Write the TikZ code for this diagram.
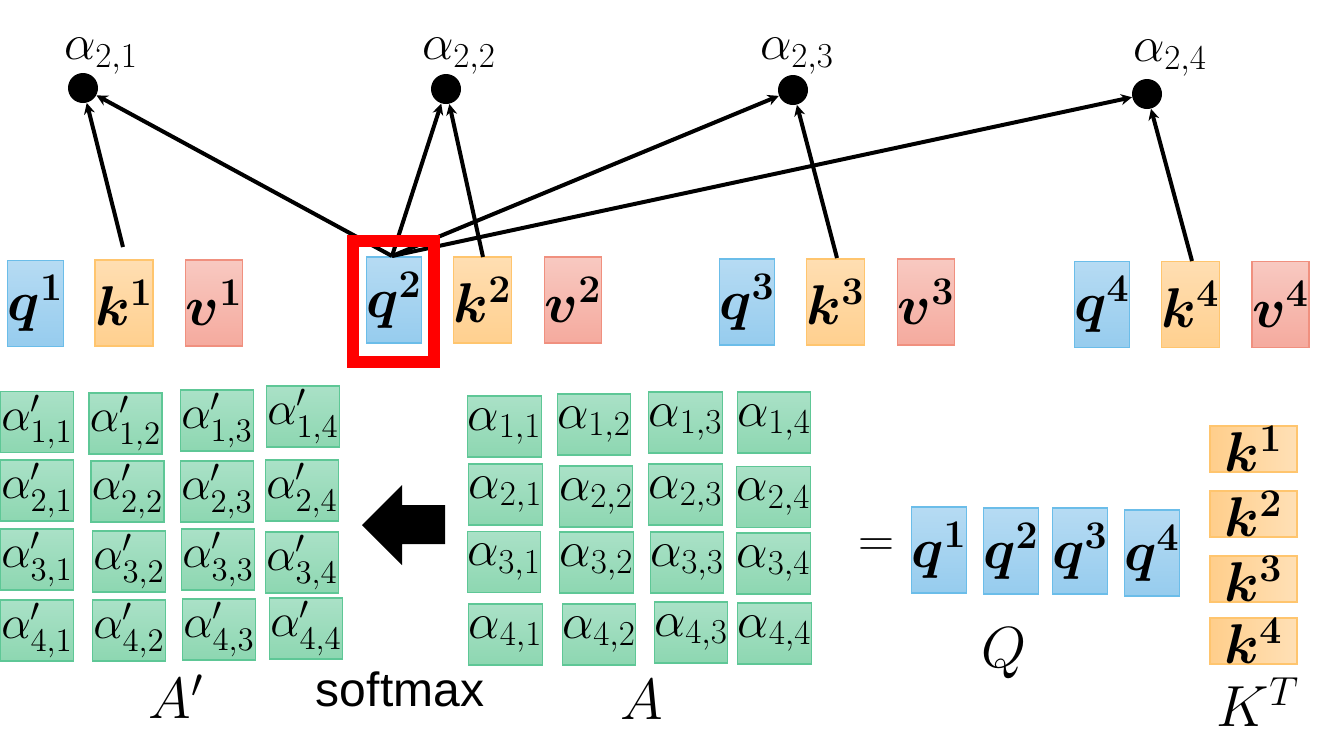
\RequirePackage{fix-cm}
\documentclass[tikz,border=0pt]{standalone}
\usepackage{amsmath,bm}
\usepackage{fontspec}
\newfontfamily\sfx{Liberation Sans}
\usetikzlibrary{arrows.meta}
\definecolor{qtop}{HTML}{B6DBF3}
\definecolor{qbot}{HTML}{96CCEE}
\definecolor{qline}{HTML}{6BBDE9}
\definecolor{ktop}{HTML}{FFDEB2}
\definecolor{kbot}{HTML}{FFD08F}
\definecolor{kline}{HTML}{FFC56E}
\definecolor{vtop}{HTML}{F8C9C1}
\definecolor{vbot}{HTML}{F5AA9E}
\definecolor{vline}{HTML}{F0907F}
\definecolor{gtop}{HTML}{AAE1C7}
\definecolor{gbot}{HTML}{8DD7B1}
\definecolor{gline}{HTML}{5EC796}
\definecolor{ktl}{HTML}{FFCE8B}
\definecolor{ktr}{HTML}{FFE0B6}
\begin{document}
\begin{tikzpicture}[x=0.5pt,y=-0.5pt,
  vec/.style={line width=0.6pt, minimum width=23pt, minimum height=43pt, inner sep=0pt, font=\fontsize{28}{32}\selectfont},
  qbox/.style={vec, draw=qline, top color=qtop, bottom color=qbot},
  kbox/.style={vec, draw=kline, top color=ktop, bottom color=kbot},
  vbox/.style={vec, draw=vline, top color=vtop, bottom color=vbot},
  gbox/.style={draw=gline, line width=0.6pt, top color=gtop, bottom color=gbot, minimum width=36.5pt, minimum height=30.5pt, inner sep=0pt, font=\fontsize{25}{29}\selectfont},
  gpbox/.style={gbox, font=\fontsize{23.5}{27}\selectfont},
  ktbox/.style={draw=kline, line width=0.6pt, left color=ktl, right color=ktr, minimum width=43.5pt, minimum height=23pt, inner sep=0pt, font=\fontsize{28}{32}\selectfont},
  dot/.style={circle, fill=black, minimum size=15pt, inner sep=0pt},
  dlabel/.style={font=\fontsize{25}{29}\selectfont, inner sep=0pt},
  biglabel/.style={font=\fontsize{29}{33}\selectfont, inner sep=0pt},
  arr/.style={line width=2pt, -{Stealth[length=5.5pt,width=5.5pt]}},
  frame/.style={draw=red, line width=6pt, minimum width=40.5pt, minimum height=60.5pt, inner sep=0pt}
]
\useasboundingbox (0,0) rectangle (1318,736);

% top vectors
\node[qbox] (q1) at (35.5,303.5) {$\bm{q}^{\bm{1}}$};
\node[kbox] (k1) at (124,303) {$\bm{k}^{\bm{1}}$};
\node[vbox] (v1) at (214,303) {$\bm{v}^{\bm{1}}$};
\node[qbox] (q2) at (394,300) {$\bm{q}^{\bm{2}}$};
\node[kbox] (k2) at (482.5,300) {$\bm{k}^{\bm{2}}$};
\node[vbox] (v2) at (573,300) {$\bm{v}^{\bm{2}}$};
\node[qbox] (q3) at (747,302) {$\bm{q}^{\bm{3}}$};
\node[kbox] (k3) at (835.5,302) {$\bm{k}^{\bm{3}}$};
\node[vbox] (v3) at (926,302) {$\bm{v}^{\bm{3}}$};
\node[qbox] (q4) at (1102,304.5) {$\bm{q}^{\bm{4}}$};
\node[kbox] (k4) at (1190.5,304.5) {$\bm{k}^{\bm{4}}$};
\node[vbox] (v4) at (1280.5,304.5) {$\bm{v}^{\bm{4}}$};

% dots and labels
\node[dot] (a21) at (83,88) {};
\node[dot] (a22) at (446,89) {};
\node[dot] (a23) at (793,90) {};
\node[dot] (a24) at (1147,94) {};
\node[dlabel] (l21) at (101,56) {$\alpha_{2,1}$};
\node[dlabel] (l22) at (459,56) {$\alpha_{2,2}$};
\node[dlabel] (l23) at (797,56) {$\alpha_{2,3}$};
\node[dlabel] (l24) at (1170,58) {$\alpha_{2,4}$};

% connector start points
\coordinate (q2t) at (392,256);
\coordinate (k1t) at (123,247);
\coordinate (k2t) at (483,257);
\coordinate (k3t) at (837,258);
\coordinate (k4t) at (1192,261);

\draw[arr] (k1t) -- (a21);
\draw[arr] (q2t) -- (a21);
\draw[arr] (q2t) -- (a22);
\draw[arr] (k2t) -- (a22);
\draw[arr] (q2t) -- (a23);
\draw[arr] (k3t) -- (a23);
\draw[arr] (q2t) -- (a24);
\draw[arr] (k4t) -- (a24);

\node[frame] (fr) at (393.5,301.5) {};

% A' matrix
\node[gpbox] (p11) at (37,422) {$\alpha'_{1,1}$};
\node[gpbox] (p12) at (125.5,423.5) {$\alpha'_{1,2}$};
\node[gpbox] (p13) at (217,420.5) {$\alpha'_{1,3}$};
\node[gpbox] (p14) at (303,416.5) {$\alpha'_{1,4}$};
\node[gpbox] (p21) at (37,490.5) {$\alpha'_{2,1}$};
\node[gpbox] (p22) at (127.5,491.5) {$\alpha'_{2,2}$};
\node[gpbox] (p23) at (217,491.5) {$\alpha'_{2,3}$};
\node[gpbox] (p24) at (302,490.5) {$\alpha'_{2,4}$};
\node[gpbox] (p31) at (37,559.5) {$\alpha'_{3,1}$};
\node[gpbox] (p32) at (129,561.5) {$\alpha'_{3,2}$};
\node[gpbox] (p33) at (218,559.5) {$\alpha'_{3,3}$};
\node[gpbox] (p34) at (302,562.5) {$\alpha'_{3,4}$};
\node[gpbox] (p41) at (37,630.5) {$\alpha'_{4,1}$};
\node[gpbox] (p42) at (129,630.5) {$\alpha'_{4,2}$};
\node[gpbox] (p43) at (219,629.5) {$\alpha'_{4,3}$};
\node[gpbox] (p44) at (306,628.5) {$\alpha'_{4,4}$};

% A matrix
\node[gbox] (m11) at (504.5,426.5) {$\alpha_{1,1}$};
\node[gbox] (m12) at (594,424.5) {$\alpha_{1,2}$};
\node[gbox] (m13) at (685.5,422.5) {$\alpha_{1,3}$};
\node[gbox] (m14) at (774,422.5) {$\alpha_{1,4}$};
\node[gbox] (m21) at (505.5,494.5) {$\alpha_{2,1}$};
\node[gbox] (m22) at (596,496.5) {$\alpha_{2,2}$};
\node[gbox] (m23) at (685.5,494.5) {$\alpha_{2,3}$};
\node[gbox] (m24) at (773.5,497) {$\alpha_{2,4}$};
\node[gbox] (m31) at (504,562) {$\alpha_{3,1}$};
\node[gbox] (m32) at (596.5,562.5) {$\alpha_{3,2}$};
\node[gbox] (m33) at (687,562.5) {$\alpha_{3,3}$};
\node[gbox] (m34) at (773.5,563.5) {$\alpha_{3,4}$};
\node[gbox] (m41) at (505.5,634.5) {$\alpha_{4,1}$};
\node[gbox] (m42) at (599,634.5) {$\alpha_{4,2}$};
\node[gbox] (m43) at (691,632.5) {$\alpha_{4,3}$};
\node[gbox] (m44) at (774.5,633.5) {$\alpha_{4,4}$};

% softmax arrow
\fill[black] (362,525) -- (402,485) -- (402,505) -- (445,505) -- (445,544) -- (402,544) -- (402,565) -- cycle;
\node[inner sep=0pt, font=\sfx\fontsize{24}{28}\selectfont] (sm) at (400,689) {softmax};

% labels
\node[biglabel] (Ap) at (176,697) {$A'$};
\node[biglabel] (A) at (642,700) {$A$};
\node[font=\fontsize{25}{29}\selectfont, inner sep=0pt] (eq) at (876,548) {$=$};

% Q
\node[qbox] (Q1) at (939,550) {$\bm{q}^{\bm{1}}$};
\node[qbox] (Q2) at (1011,551) {$\bm{q}^{\bm{2}}$};
\node[qbox] (Q3) at (1080,551) {$\bm{q}^{\bm{3}}$};
\node[qbox] (Q4) at (1152,553) {$\bm{q}^{\bm{4}}$};
\node[biglabel] (Ql) at (1004,653) {$Q$};

% K^T
\node[ktbox] (K1) at (1253.5,449) {$\bm{k}^{\bm{1}}$};
\node[ktbox] (K2) at (1253.5,514) {$\bm{k}^{\bm{2}}$};
\node[ktbox] (K3) at (1253.5,579) {$\bm{k}^{\bm{3}}$};
\node[ktbox] (K4) at (1253.5,641) {$\bm{k}^{\bm{4}}$};
\node[biglabel] (KT) at (1258,702) {$K^T$};
\end{tikzpicture}
\end{document}
